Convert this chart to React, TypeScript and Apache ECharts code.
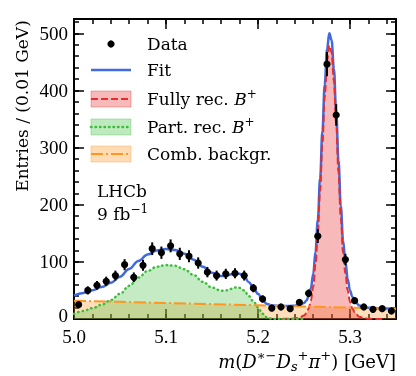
import React, { useEffect, useRef } from "react";
import * as echarts from "echarts";

// Data: bin centres (0.01 GeV bins), entries, Poisson errors
const dataX = [5.005, 5.015, 5.025, 5.035, 5.045, 5.055, 5.065, 5.075, 5.085, 5.095, 5.105, 5.115, 5.125, 5.135, 5.145, 5.155, 5.165, 5.175, 5.185, 5.195, 5.205, 5.215, 5.225, 5.235, 5.245, 5.255, 5.265, 5.275, 5.285, 5.295, 5.305, 5.315, 5.325, 5.335, 5.345];
const dataY = [25, 50, 59, 66, 76, 95, 73, 94, 123, 116, 128, 114, 110, 98, 82, 76, 79, 80, 76, 54, 35, 19, 21, 18, 29, 45, 145, 446, 357, 104, 32, 21, 17, 18, 14];
const dataErr = [5, 7.1, 7.7, 8.1, 8.7, 9.7, 8.5, 9.7, 11.1, 10.8, 11.3, 10.7, 10.5, 9.9, 9.1, 8.7, 8.9, 8.9, 8.7, 7.3, 5.9, 4.4, 4.6, 4.2, 5.4, 6.7, 12.0, 21.1, 18.9, 10.2, 5.7, 4.6, 4.1, 4.2, 3.7];

// Total fit
const fitX = [5.0, 5.01, 5.02, 5.03, 5.04, 5.05, 5.06, 5.07, 5.08, 5.09, 5.1, 5.11, 5.12, 5.13, 5.14, 5.15, 5.16, 5.165, 5.17, 5.175, 5.18, 5.185, 5.19, 5.195, 5.2, 5.205, 5.21, 5.215, 5.22, 5.23, 5.235, 5.24, 5.245, 5.25, 5.2525, 5.255, 5.2575, 5.26, 5.2625, 5.265, 5.2675, 5.27, 5.2725, 5.275, 5.2775, 5.28, 5.2825, 5.285, 5.2875, 5.29, 5.2925, 5.295, 5.2975, 5.3, 5.3025, 5.305, 5.31, 5.315, 5.32, 5.325, 5.33, 5.34, 5.35];
const fitY = [41, 45.6, 50.2, 55.8, 63.4, 74, 87.6, 101.7, 112.8, 119.9, 122.3, 120.6, 114.2, 103.8, 91.4, 81, 75.1, 75.4, 77.7, 80, 79.3, 74.6, 64.4, 55.2, 44, 32.8, 26.1, 23.9, 23.2, 22.8, 22.9, 23.4, 24.7, 28, 31.9, 39.8, 53.7, 78.6, 117.5, 173.4, 246.3, 329.2, 410.1, 472, 499.9, 487.8, 437.7, 362.6, 277.5, 198.4, 136.3, 100.2, 70.1, 50, 38.9, 31.8, 23.6, 20.9, 19.8, 19.2, 18.8, 18.4, 18];

// Fully reconstructed B+
const fullX = [5.225, 5.235, 5.24, 5.245, 5.25, 5.2525, 5.255, 5.2575, 5.26, 5.2625, 5.265, 5.2675, 5.27, 5.2725, 5.275, 5.2775, 5.28, 5.2825, 5.285, 5.2875, 5.29, 5.2925, 5.295, 5.2975, 5.3, 5.3025, 5.305, 5.31, 5.315, 5.32, 5.325, 5.335];
const fullY = [0, 0.3, 1, 2.5, 6, 10, 18, 32, 57, 96, 152, 225, 308, 389, 451, 479, 467, 417, 342, 257, 178, 116, 80, 50, 30, 19, 12, 4, 1.5, 0.6, 0.2, 0];

// Partially reconstructed B+
const partX = [5.0, 5.01, 5.02, 5.03, 5.04, 5.05, 5.06, 5.07, 5.08, 5.09, 5.1, 5.11, 5.12, 5.13, 5.14, 5.15, 5.16, 5.165, 5.17, 5.175, 5.18, 5.185, 5.19, 5.195, 5.2, 5.205, 5.21, 5.215, 5.22, 5.25];
const partY = [9, 14, 19, 25, 33, 44, 58, 72.5, 84, 91.5, 94.3, 93, 87, 77, 65, 55, 49.5, 50, 52.5, 55, 54.5, 50, 40, 31, 20, 9, 2.5, 0.5, 0, 0];

// Combinatorial background
const combX = [5.0, 5.05, 5.1, 5.15, 5.2, 5.25, 5.3, 5.35];
const combY = [32, 30, 28, 26, 24, 22, 20, 18];

const LEGEND_LABELS = ["Data", "Fit", "Fully rec. ", "Part. rec. ", "Comb. backgr."];

const BLUE = "#4169e1";
const RED = "#e62c2c";
const GREEN = "#3cbe3c";
const ORANGE = "#ff961e";
const TXT = "'DejaVu Serif', serif";
const NUM = "'Liberation Serif', serif";

const pairs = (xs: number[], ys: number[]) => xs.map((x, i) => [x, ys[i]]);

export default function App() {
  const ref = useRef<HTMLDivElement>(null);
  useEffect(() => {
    const chart = echarts.init(ref.current!, null, { renderer: "svg" });
    const tickStyle = { color: "#000", width: 1.5 };
    const mkX = (pos: string, major: boolean) => ({
      type: "value",
      min: 5.0,
      max: 5.35,
      interval: major ? 0.1 : 0.02,
      position: pos,
      axisLine: { show: major, onZero: false, lineStyle: { color: "#000", width: 2 } },
      axisTick: { show: true, inside: true, length: major ? 10 : 5, lineStyle: tickStyle },
      axisLabel: {
        show: major && pos === "bottom",
        margin: 9,
        color: "#000",
        fontFamily: NUM,
        fontSize: 19,
        lineHeight: 16,
        formatter: (v: number) => (Math.abs(v * 10 - Math.round(v * 10)) < 1e-6 ? v.toFixed(1) : ""),
      },
      splitLine: { show: false },
    });
    const mkY = (pos: string, major: boolean) => ({
      type: "value",
      min: 0,
      max: 525,
      interval: major ? 100 : 20,
      position: pos,
      axisLine: { show: major, onZero: false, lineStyle: { color: "#000", width: 2 } },
      axisTick: { show: true, inside: true, length: major ? 10 : 5, lineStyle: tickStyle },
      axisLabel: {
        show: major && pos === "left",
        margin: 6,
        color: "#000",
        fontFamily: NUM,
        fontSize: 19,
        lineHeight: 14,
        formatter: (v: number) => (v === 0 ? "{z|0}" : v % 100 === 0 ? String(v) : ""),
        rich: { z: { fontFamily: NUM, fontSize: 19, color: "#000", lineHeight: 14, padding: [0, 0, 7, 0] } },
      },
      splitLine: { show: false },
    });

    const scriptRich = {
      n: { fontFamily: TXT, fontSize: 17, lineHeight: 22, color: "#000" },
      i: { fontFamily: TXT, fontSize: 17, fontStyle: "italic", lineHeight: 22, color: "#000" },
      sup: { fontFamily: TXT, fontSize: 12, lineHeight: 10, verticalAlign: "top", color: "#000" },
      sub: { fontFamily: TXT, fontSize: 12, fontStyle: "italic", lineHeight: 10, verticalAlign: "bottom", color: "#000" },
    };
    const titleRich = {
      n: { fontFamily: TXT, fontSize: 18, lineHeight: 24, color: "#000" },
      i: { fontFamily: TXT, fontSize: 18, fontStyle: "italic", lineHeight: 24, color: "#000" },
      sup: { fontFamily: TXT, fontSize: 13, lineHeight: 11, verticalAlign: "top", color: "#000" },
      sub: { fontFamily: TXT, fontSize: 13, fontStyle: "italic", lineHeight: 11, verticalAlign: "bottom", color: "#000" },
    };

    const legendRows = [44, 70, 99, 127, 154];
    const box = (y: number, c: string) => ({
      type: "rect",
      shape: { x: 91, y: y - 8, width: 40, height: 16 },
      style: { fill: c, opacity: 0.33, stroke: c, lineWidth: 1 },
    });
    const hline = (y: number, c: string, w: number, dash: number[] | null) => ({
      type: "line",
      shape: { x1: 91, y1: y, x2: 131, y2: y },
      style: { stroke: c, lineWidth: w, lineDash: dash || undefined, lineCap: dash && dash[0] < 3 ? "round" : "butt" },
    });
    const ltext = (y: number, text: string) => ({
      type: "text",
      x: 147,
      y,
      style: { text, rich: scriptRich, fontFamily: TXT, fontSize: 17, fill: "#000", align: "left", verticalAlign: "middle" },
    });

    const option: any = {
      animation: false,
      grid: { left: 74, right: 20, top: 19, bottom: 57 },
      xAxis: [mkX("bottom", true), mkX("bottom", false), mkX("top", true), mkX("top", false)],
      yAxis: [mkY("left", true), mkY("left", false), mkY("right", true), mkY("right", false)],
      series: [
        {
          type: "line", data: pairs(combX, combY), symbol: "none", silent: true,
          lineStyle: { width: 0, opacity: 0 }, areaStyle: { color: ORANGE, opacity: 0.3 }, z: 1,
        },
        {
          type: "line", data: pairs(partX, partY), symbol: "none", silent: true, smooth: 0.4, smoothMonotone: "x",
          lineStyle: { width: 0, opacity: 0 }, areaStyle: { color: GREEN, opacity: 0.3 }, z: 1,
        },
        {
          type: "line", data: pairs(fullX, fullY), symbol: "none", silent: true, smooth: 0.4, smoothMonotone: "x",
          lineStyle: { width: 0, opacity: 0 }, areaStyle: { color: RED, opacity: 0.33 }, z: 1,
        },
        {
          type: "line", data: pairs(fitX, fitY), symbol: "none", silent: true, smooth: 0.4, smoothMonotone: "x",
          lineStyle: { color: BLUE, width: 2.5 }, z: 2,
        },
        {
          type: "line", data: pairs(fullX, fullY), symbol: "none", silent: true, smooth: 0.4, smoothMonotone: "x",
          lineStyle: { color: RED, width: 2, type: [7, 3] }, z: 3,
        },
        {
          type: "line", data: pairs(partX, partY), symbol: "none", silent: true, smooth: 0.4, smoothMonotone: "x",
          lineStyle: { color: GREEN, width: 2.5, type: [0.5, 4], cap: "round" }, z: 3,
        },
        {
          type: "line", data: pairs(combX, combY), symbol: "none", silent: true,
          lineStyle: { color: ORANGE, width: 2, type: [12, 3, 2, 3] }, z: 3,
        },
        {
          type: "custom",
          silent: true,
          z: 5,
          data: dataX.map((x, i) => [x, dataY[i], dataErr[i]]),
          encode: { x: 0, y: 1 },
          renderItem: (params: any, api: any) => {
            const x = api.value(0);
            const y = api.value(1);
            const e = api.value(2);
            const p = api.coord([x, y]);
            const t = api.coord([x, y + e]);
            const b = api.coord([x, y - e]);
            return {
              type: "group",
              children: [
                { type: "line", shape: { x1: p[0], y1: t[1], x2: p[0], y2: b[1] }, style: { stroke: "#000", lineWidth: 2 } },
                { type: "circle", shape: { cx: p[0], cy: p[1], r: 3.6 }, style: { fill: "#000" } },
              ],
            };
          },
        },
      ],
      graphic: [
        // legend
        { type: "circle", shape: { cx: 111, cy: legendRows[0], r: 3.6 }, style: { fill: "#000" } },
        hline(legendRows[1], BLUE, 2.5, null),
        box(legendRows[2], RED),
        hline(legendRows[2], RED, 2, [7, 3]),
        box(legendRows[3], GREEN),
        hline(legendRows[3], GREEN, 2.5, [0.5, 4]),
        box(legendRows[4], ORANGE),
        hline(legendRows[4], ORANGE, 2, [12, 3, 2, 3]),
        ltext(legendRows[0], "{n|" + LEGEND_LABELS[0] + "}"),
        ltext(legendRows[1], "{n|" + LEGEND_LABELS[1] + "}"),
        ltext(legendRows[2], "{n|" + LEGEND_LABELS[2] + "}{i|B}{sup|+}"),
        ltext(legendRows[3], "{n|" + LEGEND_LABELS[3] + "}{i|B}{sup|+}"),
        ltext(legendRows[4], "{n|" + LEGEND_LABELS[4] + "}"),
        // LHCb label
        {
          type: "text", x: 97, y: 191,
          style: { text: "{n|LHCb}", rich: scriptRich, align: "left", verticalAlign: "middle", fill: "#000" },
        },
        {
          type: "text", x: 97, y: 214,
          style: { text: "{n|9 fb}{sup|−1}", rich: scriptRich, align: "left", verticalAlign: "middle", fill: "#000" },
        },
        // axis titles
        {
          type: "text", x: 22, y: 106, rotation: Math.PI / 2,
          style: { text: "Entries / (0.01 GeV)", fontFamily: TXT, fontSize: 17, fill: "#000", align: "center", verticalAlign: "middle" },
        },
        {
          type: "text", x: 396, y: 361,
          style: {
            text: "{i|m}{n|(}{i|D}{sup|∗−}{i|D}{sub|s}{sup|+}{i|π}{sup|+}{n|) [GeV]}",
            rich: titleRich, align: "right", verticalAlign: "middle", fill: "#000",
          },
        },
      ],
    };
    chart.setOption(option);
    return () => chart.dispose();
  }, []);
  return <div ref={ref} style={{ position: "fixed", left: 0, top: 0, width: 416, height: 376 }} />;
}
